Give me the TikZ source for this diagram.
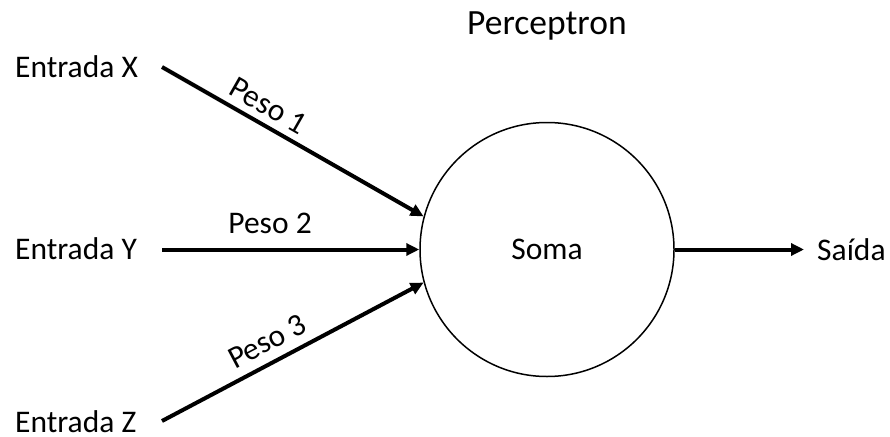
\documentclass[tikz,border=0pt]{standalone}
\usepackage{fontspec}
\setmainfont{Carlito}
\usetikzlibrary{arrows.meta}
\begin{document}
\begin{tikzpicture}[x=1pt,y=-1pt,
  lbl/.style={inner sep=0pt, font=\fontsize{31.5}{36}\selectfont},
  wire/.style={line width=4pt, -{Triangle[length=13pt,width=12pt]}},
  sumnode/.style={circle, draw, line width=1.5pt, minimum size=254pt, inner sep=0pt,
                  font=\fontsize{31.5}{36}\selectfont}]
  \useasboundingbox (0,0) rectangle (890,436);
  % title
  \node[lbl, font=\fontsize{35.5}{40}\selectfont, anchor=base west] (title) at (467,35) {Perceptron};
  % inputs
  \node[lbl, anchor=base west] (inx) at (15,77)  {Entrada X};
  \node[lbl, anchor=base west] (iny) at (15,259) {Entrada Y};
  \node[lbl, anchor=base west] (inz) at (15,432) {Entrada Z};
  % summation unit
  \node[sumnode] (soma) at (547,249.5) {Soma};
  % output
  \node[lbl, anchor=base west] (out) at (817,260) {Saída};
  % wire start and end points
  \coordinate (sx) at (162,67);
  \coordinate (sy) at (162,249.5);
  \coordinate (sz) at (162,421);
  \coordinate (ot) at (804,249.5);
  % weighted connections
  \draw[wire] (sx) -- node[lbl, pos=0.37, sloped, above=7pt] (p1) {Peso 1} (soma.165);
  \draw[wire] (sy) -- node[lbl, pos=0.42, above=14pt] (p2) {Peso 2} (soma.west);
  \draw[wire] (sz) -- node[lbl, pos=0.44, sloped, above=9pt] (p3) {Peso 3} (soma.195);
  \draw[wire] (soma.east) -- (ot);
\end{tikzpicture}
\end{document}
